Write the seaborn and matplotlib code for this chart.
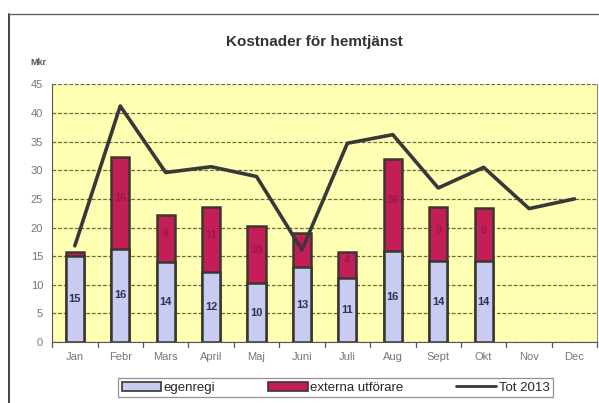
import numpy as np
import pandas as pd
import seaborn as sns
import matplotlib.pyplot as plt
from matplotlib.patches import Patch
from matplotlib.lines import Line2D

months = ["Jan", "Febr", "Mars", "April", "Maj", "Juni", "Juli", "Aug", "Sept", "Okt", "Nov", "Dec"]
egenregi = [15.0, 16.3, 14.0, 12.2, 10.3, 13.1, 11.2, 15.9, 14.1, 14.1, np.nan, np.nan]
externa = [0.8, 16.0, 8.2, 11.3, 9.9, 5.9, 4.5, 16.1, 9.4, 9.3, np.nan, np.nan]
tot_2013 = [16.8, 41.2, 29.6, 30.6, 28.9, 16.1, 34.7, 36.2, 26.9, 30.5, 23.3, 25.0]
lbl_egen = ["15", "16", "14", "12", "10", "13", "11", "16", "14", "14", "", ""]
lbl_ext = ["", "16", "8", "11", "10", "6", "4", "16", "9", "9", "", ""]

df = pd.DataFrame({"month": months, "egenregi": egenregi, "externa": externa})
df["total"] = df["egenregi"] + df["externa"]

sns.set_style("white")
plt.rcParams["font.family"] = ["Liberation Sans", "DejaVu Sans"]

fig = plt.figure(figsize=(5.99, 4.03), dpi=100)
ax = fig.add_axes([0.087, 0.151, 0.910, 0.640])
ax.set_facecolor("#FFFFB4")

blue = "#C9CCF2"
red = "#C41E58"
edge = "#3A372C"

# stacked: draw total first, egenregi on top of it
sns.barplot(data=df, x="month", y="total", color=red, width=0.4, edgecolor=edge,
            linewidth=1.8, saturation=1, ax=ax)
sns.barplot(data=df, x="month", y="egenregi", color=blue, width=0.4, edgecolor=edge,
            linewidth=1.8, saturation=1, ax=ax)

sns.pointplot(x=months, y=tot_2013, color="#383838", markers="", linewidth=2.6, ax=ax)

for i in range(len(months)):
    if lbl_egen[i]:
        ax.text(i, egenregi[i] / 2, lbl_egen[i], ha="center", va="center",
                fontsize=8, fontweight="bold", color="#2E3150")
    if lbl_ext[i]:
        ax.text(i, egenregi[i] + externa[i] / 2 + 0.8, lbl_ext[i], ha="center", va="center",
                fontsize=8, fontweight="bold", color="#8E1840", alpha=0.8)

ax.set_ylim(0, 45)
ax.set_xlim(-0.5, 11.5)
ax.set_yticks(np.arange(0, 46, 5))
ax.yaxis.grid(True, color="#6B6A40", linestyle=(0, (3, 1.5)), linewidth=0.9)
ax.set_axisbelow(True)
ax.set_xlabel("")
ax.set_ylabel("")
ax.tick_params(axis="both", labelsize=8, colors="#777777", length=3, direction="out")
ax.tick_params(axis="x", length=0, pad=7)
ax.spines["top"].set_visible(False)
ax.spines["right"].set_color("#888888")
ax.spines["left"].set_color("#555555")
ax.spines["bottom"].set_color("#555555")
for xb in np.arange(-0.5, 12, 1):
    ax.plot([xb, xb], [0, -0.9], color="#555555", lw=0.9, clip_on=False)

fig.text(0.525, 0.895, "Kostnader för hemtjänst", ha="center", va="center",
         fontsize=11, fontweight="bold", color="#333333")
fig.text(0.05, 0.845, "Mkr", ha="left", va="center", fontsize=6.5,
         fontweight="bold", color="#555555")

# outer chart frame
fig.add_artist(Line2D([0.015, 0.015], [0.0, 0.966], color="#333333", lw=1.3))
fig.add_artist(Line2D([0.015, 1.0], [0.966, 0.966], color="#666666", lw=1.0))

handles = [Patch(facecolor=blue, edgecolor=edge, linewidth=1.2),
           Patch(facecolor=red, edgecolor=edge, linewidth=1.2),
           Line2D([0], [0], color="#383838", lw=2)]
leg = fig.legend(handles, ["egenregi", "externa utförare", "Tot 2013"], loc="center",
                 bbox_to_anchor=(0.56, 0.0375), ncol=3, fontsize=9.5, frameon=True,
                 fancybox=False, edgecolor="#777777", handlelength=3.0, handleheight=0.7,
                 columnspacing=4.0, borderpad=0.25, handletextpad=0.2)
leg.get_frame().set_linewidth(0.9)

fig.savefig("out.png", dpi=100, facecolor="white")
